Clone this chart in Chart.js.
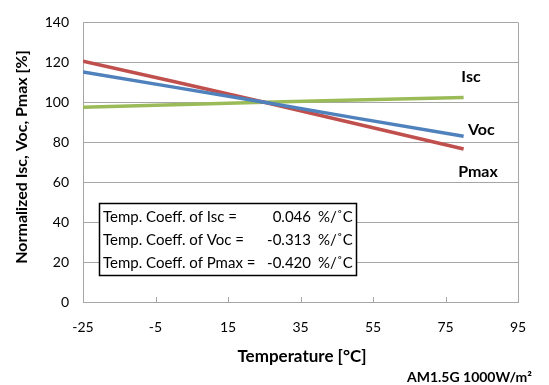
<!DOCTYPE html>
<html>
<head>
<meta charset="utf-8">
<script src="https://cdn.jsdelivr.net/npm/chart.js@4.4.1/dist/chart.umd.min.js"></script>
<style>
  html, body { margin: 0; padding: 0; background: #fff; }
  #wrap { width: 549px; height: 385px; }
</style>
</head>
<body>
<div id="wrap"><canvas id="chart" width="549" height="385"></canvas></div>
<script>
// Data
const temps = [-25, 0, 25, 50, 80];
const isc = [97.5, 98.8, 100, 101.1, 102.4];
const voc = [115.2, 107.6, 100, 92.2, 83];
const pmax = [120.6, 110.4, 100, 89.4, 76.6];

const seriesNames = ["Isc", "Voc", "Pmax"];
const coeffLabels = ["Temp. Coeff. of Isc =", "Temp. Coeff. of Voc =", "Temp. Coeff. of Pmax ="];
const coeffValues = ["0.046", "-0.313", "-0.420"];

const FONT = "Lato, 'Open Sans', sans-serif";
const gridColor = "#a6a6a6";

const toPoints = (ys) => temps.map((t, i) => ({ x: t, y: ys[i] }));

// Extra drawing: box border, inner x ticks, series labels, coefficient table, titles
const decorations = {
  id: "decorations",
  afterDraw(chart) {
    const { ctx, chartArea: a, scales } = chart;
    const xs = scales.x;
    ctx.save();

    // right border
    ctx.strokeStyle = gridColor;
    ctx.lineWidth = 1;
    ctx.beginPath();
    ctx.moveTo(a.right + 0.5, a.top);
    ctx.lineTo(a.right + 0.5, a.bottom);
    ctx.stroke();

    // small ticks above the x axis
    xs.ticks.forEach((t) => {
      const px = Math.round(xs.getPixelForValue(t.value)) + 0.5;
      ctx.beginPath();
      ctx.moveTo(px, a.bottom);
      ctx.lineTo(px, a.bottom - 5);
      ctx.stroke();
    });

    // series labels
    ctx.fillStyle = "#000";
    ctx.font = "bold 16px " + FONT;
    ctx.textBaseline = "middle";
    ctx.textAlign = "center";
    ctx.fillText(seriesNames[0], 471, 77);
    ctx.textAlign = "left";
    ctx.fillText(seriesNames[1], 468, 130);
    ctx.textAlign = "center";
    ctx.fillText(seriesNames[2], 478, 172);

    // coefficient table
    const bx = 99.5, by = 203.5, bw = 257, bh = 72;
    ctx.fillStyle = "#fff";
    ctx.fillRect(bx, by, bw, bh);
    ctx.strokeStyle = "#000";
    ctx.lineWidth = 1.5;
    ctx.strokeRect(bx, by, bw, bh);
    ctx.fillStyle = "#000";
    ctx.font = "15px " + FONT;
    coeffLabels.forEach((lab, i) => {
      const ty = 217 + i * 23;
      ctx.textAlign = "left";
      ctx.fillText(lab, 103, ty);
      ctx.textAlign = "right";
      ctx.fillText(coeffValues[i], 311, ty);
      ctx.textAlign = "left";
      ctx.fillText("%/\u02DAC", 318, ty);
    });

    // axis titles
    ctx.font = "bold 17px " + FONT;
    ctx.textAlign = "center";
    ctx.fillText("Temperature [\u00B0C]", 302, 357);
    ctx.save();
    ctx.translate(22, 157);
    ctx.rotate(-Math.PI / 2);
    ctx.font = "bold 16px " + FONT;
    ctx.fillText("Normalized Isc, Voc, Pmax [%]", 0, 0);
    ctx.restore();

    ctx.font = "bold 14px " + FONT;
    ctx.textAlign = "right";
    ctx.fillText("AM1.5G 1000W/m\u00B2", 532, 377);

    ctx.restore();
  },
};

new Chart(document.getElementById("chart").getContext("2d"), {
  type: "line",
  data: {
    datasets: [
      { label: "Voc", data: toPoints(voc), borderColor: "#4f81bd" },
      { label: "Pmax", data: toPoints(pmax), borderColor: "#c0504d" },
      { label: "Isc", data: toPoints(isc), borderColor: "#9bbb59" },
    ],
  },
  options: {
    responsive: false,
    animation: false,
    layout: { padding: { top: 13, right: 31, left: 0, bottom: 0 } },
    elements: {
      line: { borderWidth: 3.5, tension: 0, borderCapStyle: "butt" },
      point: { radius: 0 },
    },
    scales: {
      x: {
        type: "linear",
        min: -25,
        max: 95,
        ticks: { stepSize: 20, color: "#000", font: { family: FONT, size: 14 }, padding: 17 },
        grid: { display: false, drawTicks: false },
        border: { color: gridColor },
        afterFit: (s) => { s.height = 83; },
      },
      y: {
        min: 0,
        max: 140,
        ticks: { stepSize: 20, color: "#000", font: { family: FONT, size: 14 }, padding: 14 },
        grid: { color: gridColor, drawTicks: false },
        border: { color: gridColor },
        afterFit: (s) => { s.width = 83; },
      },
    },
    plugins: {
      legend: { display: false },
      tooltip: { enabled: false },
    },
  },
  plugins: [decorations],
});
</script>
</body>
</html>
